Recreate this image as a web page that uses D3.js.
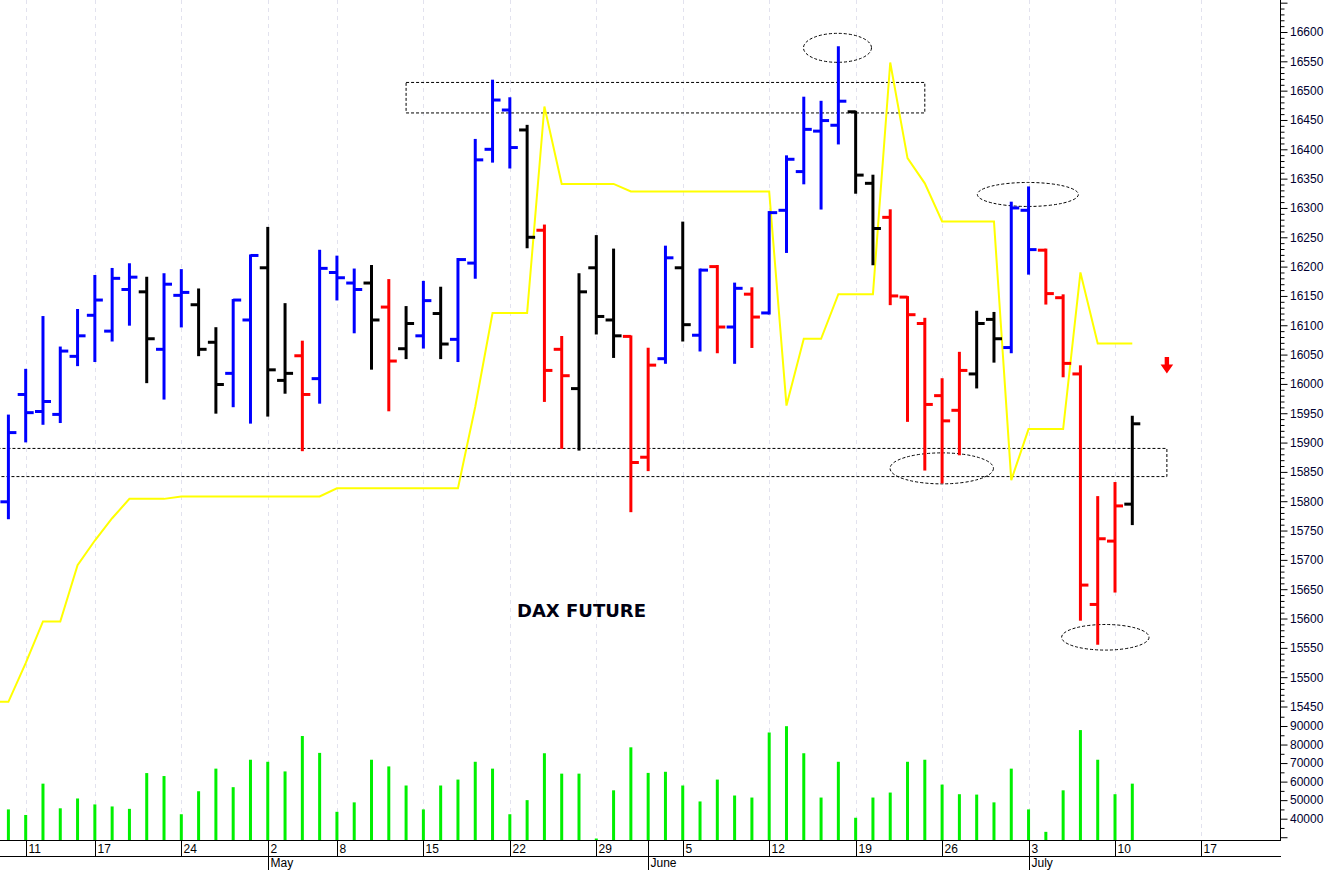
<!DOCTYPE html>
<html>
<head>
<meta charset="utf-8">
<script src="https://cdn.jsdelivr.net/npm/d3@7/dist/d3.min.js"></script>
<style>
  html, body { margin: 0; padding: 0; background: #ffffff; }
  svg { display: block; }
</style>
</head>
<body>
<svg id="chart" width="1328" height="870"></svg>
<script>
// ---------------- DATA ----------------
const dates = [
  "2023-04-06","2023-04-11","2023-04-12","2023-04-13","2023-04-14","2023-04-17","2023-04-18","2023-04-19","2023-04-20","2023-04-21",
  "2023-04-24","2023-04-25","2023-04-26","2023-04-27","2023-04-28",
  "2023-05-02","2023-05-03","2023-05-04","2023-05-05","2023-05-08","2023-05-09","2023-05-10","2023-05-11","2023-05-12",
  "2023-05-15","2023-05-16","2023-05-17","2023-05-18","2023-05-19","2023-05-22","2023-05-23","2023-05-24","2023-05-25","2023-05-26",
  "2023-05-29","2023-05-30","2023-05-31",
  "2023-06-01","2023-06-02","2023-06-05","2023-06-06","2023-06-07","2023-06-08","2023-06-09","2023-06-12","2023-06-13","2023-06-14",
  "2023-06-15","2023-06-16","2023-06-19","2023-06-20","2023-06-21","2023-06-22","2023-06-23","2023-06-26","2023-06-27","2023-06-28",
  "2023-06-29","2023-06-30",
  "2023-07-03","2023-07-04","2023-07-05","2023-07-06","2023-07-07","2023-07-10","2023-07-11"
];
const futureDates = ["2023-07-12","2023-07-13","2023-07-14","2023-07-17","2023-07-18","2023-07-19","2023-07-20","2023-07-21"];

const openP = [15799,15982,15953,15948,16047,16117,16090,16161,16157,16059,
  16151,16135,16071,16018,16109,16198,16006,16048,16009,16190,
  16172,16172,16131,16060,16082,16120,16076,16206,16400,16467,
  16433,16262,16059,15992,16198,16109,16081,15875,16043,16198,
  16083,16200,16097,16153,16121,16296,16362,16431,16441,16464,
  16342,16284,16148,16103,15980,15955,16017,16110,16062,16296,
  16228,16147,16017,15624,15732,15795];
const highP = [15946,16024,16114,16062,16126,16184,16196,16204,16181,16187,
  16194,16161,16095,16143,16219,16266,16136,16072,16227,16217,
  16195,16201,16177,16131,16174,16164,16213,16416,16517,16487,
  16440,16270,16080,16187,16252,16229,16081,16060,16234,16275,
  16195,16201,16171,16163,16293,16388,16488,16481,16574,16464,
  16355,16296,16148,16111,16008,16053,16123,16121,16309,16335,
  16229,16151,16030,15807,15831,15944];
const lowP = [15771,15902,15932,15935,16032,16039,16074,16101,16003,15975,
  16098,16049,15951,15962,15934,15946,15985,15887,15968,16144,
  16088,16026,15955,16044,16062,16044,16039,16181,16379,16369,
  16233,15971,15891,15888,16086,16046,15783,15853,16036,16074,
  16057,16054,16036,16063,16120,16225,16342,16299,16410,16326,
  16204,16136,15937,15854,15832,15880,15994,16038,16054,16188,
  16137,16013,15598,15557,15646,15761];
const closeP = [15917,15951,15970,16056,16082,16143,16180,16182,16077,16170,
  16156,16059,15999,16143,16219,16024,16018,15982,16197,16181,
  16161,16109,16039,16103,16142,16068,16212,16382,16484,16403,
  16250,16023,16014,16157,16115,16082,15866,16032,16215,16101,
  16194,16097,16163,16114,16292,16383,16434,16449,16482,16356,
  16265,16150,16118,15965,15937,16023,16103,16077,16300,16229,
  16154,16035,15657,15736,15792,15932];
// bar state: up (blue), down (red), neutral (black)
const barState = [
  "up","up","up","up","up","up","up","up","neutral","up",
  "up","neutral","neutral","up","up","neutral","neutral","down","up","up",
  "up","neutral","down","neutral","up","neutral","up","up","up","up",
  "neutral","down","down","neutral","neutral","neutral","down","down","up","neutral",
  "up","down","up","down","up","up","up","up","up","neutral",
  "neutral","down","down","down","down","down","neutral","neutral","up","up",
  "down","down","down","down","down","neutral"];
const volume = [45000,42000,58900,45600,50900,47700,46600,45300,64600,63000,
  42400,54800,67000,57000,71800,70700,65500,84600,75500,43700,
  48800,71800,68200,57900,45000,57900,61100,70700,67000,42400,
  50000,75300,64300,64300,29300,55300,78500,64700,65300,57900,
  49300,61100,52500,51400,86500,89900,75300,51400,70700,40500,
  51400,54100,70700,71800,58400,53200,53000,48800,67000,45000,
  32900,55300,87800,71800,53200,58900];
// yellow stop line
const stopLine = [15458,15524,15595,15595,15691,15733,15771,15804,15804,15804,
  15808,15808,15808,15808,15808,15808,15808,15808,15808,15822,
  15822,15822,15822,15822,15822,15822,15822,15961,16121,16121,
  16121,16473,16341,16341,16341,16341,16328,16328,16328,16328,
  16328,16328,16328,16328,16328,15963,16077,16077,16153,16153,
  16153,16548,16385,16342,16277,16277,16277,16277,15836,15923,
  15923,15923,16190,16069,16069,16069];

const weekTicks  = ["2023-04-11","2023-04-17","2023-04-24","2023-05-02","2023-05-08","2023-05-15","2023-05-22","2023-05-29",
                    "2023-06-05","2023-06-12","2023-06-19","2023-06-26","2023-07-03","2023-07-10","2023-07-17"];
const weekLabels = ["11","17","24","2","8","15","22","29","5","12","19","26","3","10","17"];
const monthTicks  = ["2023-05-02","2023-06-01","2023-07-03"];
const monthLabels = ["May","June","July"];

const priceMajor = d3.range(15450, 16651, 50);
const priceLabels = d3.range(15450, 16601, 50);
const priceMinor = d3.range(15450, 16651, 10).filter(v => v % 50 !== 0);
const volMajor = d3.range(30000, 90001, 10000);
const volLabels = d3.range(40000, 90001, 10000);
const volMinor = d3.range(35000, 95001, 10000);

const chartTitle = "DAX FUTURE";

// ---------------- SCALES ----------------
const allDates = dates.concat(futureDates);
const idx = d => allDates.indexOf(d);
const x = d3.scaleLinear().domain([0, 65]).range([8.4, 1132.3]);
const yP = d3.scaleLinear().domain([15450, 16600]).range([706.5, 32]);
const yV = d3.scaleLinear().domain([28500, 90000]).range([840, 726]);
const axisX = 1280;
const colorOf = { up: "#0000ff", down: "#ff0000", neutral: "#000000" };

const svg = d3.select("#chart");
svg.append("rect").attr("width", 1328).attr("height", 870).attr("fill", "#ffffff");

// grid (weekly dashed verticals)
svg.append("g").selectAll("line").data(weekTicks).join("line")
  .attr("x1", d => Math.round(x(idx(d))) + 0.5).attr("x2", d => Math.round(x(idx(d))) + 0.5)
  .attr("y1", 0).attr("y2", 840)
  .attr("stroke", "#e2e2ee").attr("stroke-width", 1).attr("stroke-dasharray", "4,4");

// annotations: dashed rectangles & ellipses
const ann = svg.append("g").attr("fill", "none").attr("stroke", "#000").attr("stroke-width", 1).attr("stroke-dasharray", "3,2");
ann.append("rect")
  .attr("x", x(23)).attr("y", yP(16514))
  .attr("width", x(53) - x(23)).attr("height", yP(16462) - yP(16514));
ann.append("rect")
  .attr("x", x(-1.5)).attr("y", yP(15890))
  .attr("width", x(67) - x(-1.5)).attr("height", yP(15842) - yP(15890));
ann.append("ellipse").attr("cx", x(47.95)).attr("cy", yP(16573)).attr("rx", 34).attr("ry", 14.5);
ann.append("ellipse").attr("cx", x(58.96)).attr("cy", yP(16323)).attr("rx", 50.5).attr("ry", 12);
ann.append("ellipse").attr("cx", x(53.98)).attr("cy", yP(15856)).attr("rx", 51.7).attr("ry", 15.5);
ann.append("ellipse").attr("cx", x(63.44)).attr("cy", yP(15568)).attr("rx", 43.7).attr("ry", 12.8);

// volume bars
svg.append("g").selectAll("rect").data(volume).join("rect")
  .attr("x", (d, i) => x(i) - 1.5).attr("width", 3)
  .attr("y", d => yV(d)).attr("height", d => 840 - yV(d))
  .attr("fill", "#00f000");

// yellow line
const linePts = [[-1, stopLine[0]]].concat(stopLine.map((v, i) => [i, v]));
svg.append("path").datum(linePts)
  .attr("fill", "none").attr("stroke", "#ffff00").attr("stroke-width", 2)
  .attr("stroke-linejoin", "miter")
  .attr("d", d3.line().x(d => x(d[0])).y(d => yP(d[1])));

// OHLC bars
const bars = svg.append("g").selectAll("g").data(dates.map((d, i) => i)).join("g")
  .attr("stroke", i => colorOf[barState[i]]).attr("stroke-width", 3);
bars.append("line")
  .attr("x1", i => x(i)).attr("x2", i => x(i))
  .attr("y1", i => yP(highP[i]) - 1).attr("y2", i => yP(lowP[i]) + 1);
bars.append("line")
  .attr("x1", i => x(i) - 8).attr("x2", i => x(i))
  .attr("y1", i => yP(openP[i])).attr("y2", i => yP(openP[i]));
bars.append("line")
  .attr("x1", i => x(i)).attr("x2", i => x(i) + 8)
  .attr("y1", i => yP(closeP[i])).attr("y2", i => yP(closeP[i]));

// red down arrow
{
  const ax = x(67), ay = yP(16046);
  svg.append("path")
    .attr("d", `M${ax-2.2},${ay} L${ax+2.2},${ay} L${ax+2.2},${ay+7.5} L${ax+6.3},${ay+7.5} L${ax},${ay+16.5} L${ax-6.3},${ay+7.5} L${ax-2.2},${ay+7.5} Z`)
    .attr("fill", "#ff0000");
}

// title
svg.append("text").attr("x", 517).attr("y", 616.5)
  .attr("font-family", "'DejaVu Sans', Verdana, sans-serif").attr("font-weight", "bold")
  .attr("font-size", 18).attr("fill", "#000010").text(chartTitle);

// right axis
const ax = svg.append("g").attr("transform", `translate(${axisX},0)`);
ax.append("line").attr("x1", 0.5).attr("x2", 0.5).attr("y1", 0).attr("y2", 840).attr("stroke", "#000");
const tickFont = "'Liberation Sans', Arial, sans-serif";
function ticks(scale, vals, size, labels) {
  const g = ax.append("g").call(d3.axisRight(scale).tickValues(vals).tickSize(size).tickPadding(3)
    .tickFormat(v => labels && labels.includes(v) ? String(v) : ""));
  g.select(".domain").remove();
  g.selectAll(".tick line").attr("stroke", "#000").attr("transform", "translate(0.5,0)");
  g.selectAll(".tick text").attr("font-family", tickFont).attr("font-size", 12).attr("fill", "#000030");
}
ticks(yP, priceMinor, 4, null);
ticks(yP, priceMajor, 7, priceLabels);
ticks(yV, volMinor, 4, null);
ticks(yV, volMajor, 7, volLabels);

// bottom axis
const bx = svg.append("g").attr("stroke", "#000").attr("stroke-width", 1);
bx.append("line").attr("x1", 0).attr("x2", axisX + 1).attr("y1", 840.5).attr("y2", 840.5);
bx.append("line").attr("x1", 0).attr("x2", axisX + 1).attr("y1", 856.5).attr("y2", 856.5);
bx.selectAll(".wk").data(weekTicks).join("line").attr("class", "wk")
  .attr("x1", d => Math.round(x(idx(d))) + 0.5).attr("x2", d => Math.round(x(idx(d))) + 0.5)
  .attr("y1", 840).attr("y2", 856);
bx.selectAll(".mo").data(monthTicks).join("line").attr("class", "mo")
  .attr("x1", d => Math.round(x(idx(d))) + 0.5).attr("x2", d => Math.round(x(idx(d))) + 0.5)
  .attr("y1", 840).attr("y2", 870);
svg.append("g").selectAll("text").data(weekTicks).join("text")
  .attr("x", d => Math.round(x(idx(d))) + 2.5).attr("y", 853)
  .attr("font-family", tickFont).attr("font-size", 12).attr("fill", "#000")
  .text((d, i) => weekLabels[i]);
svg.append("g").selectAll("text").data(monthTicks).join("text")
  .attr("x", d => Math.round(x(idx(d))) + 2.5).attr("y", 867)
  .attr("font-family", tickFont).attr("font-size", 12).attr("fill", "#000")
  .text((d, i) => monthLabels[i]);
</script>
</body>
</html>
